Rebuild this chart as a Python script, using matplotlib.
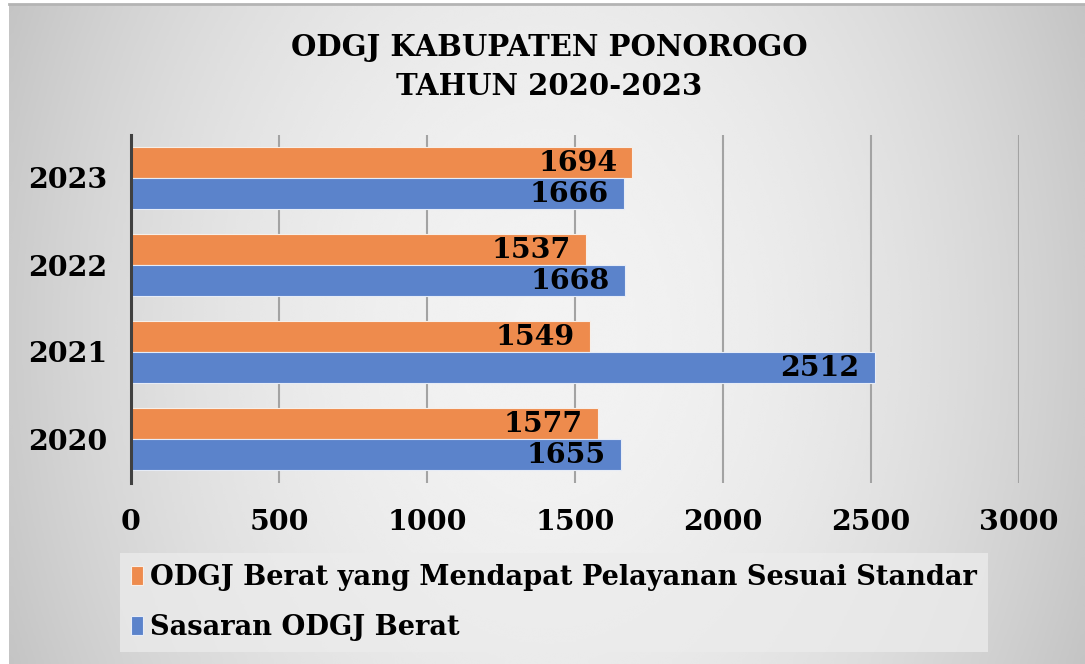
import matplotlib
matplotlib.use("Agg")
import matplotlib.pyplot as plt
import numpy as np

# data
years = ["2020", "2021", "2022", "2023"]
pelayanan = [1577, 1549, 1537, 1694]   # ODGJ Berat yang Mendapat Pelayanan Sesuai Standar
sasaran = [1655, 2512, 1668, 1666]     # Sasaran ODGJ Berat
label_pelayanan = "ODGJ Berat yang Mendapat Pelayanan Sesuai Standar"
label_sasaran = "Sasaran ODGJ Berat"
title = "ODGJ KABUPATEN PONOROGO\nTAHUN 2020-2023"

ORANGE = "#ee8b4d"
BLUE = "#5b83cb"
W, H = 1085, 664

plt.rcParams["font.family"] = ["DejaVu Serif"]
plt.rcParams["font.weight"] = "bold"

fig = plt.figure(figsize=(W / 100, H / 100), dpi=100)
fig.patch.set_facecolor("white")

# grey backdrop, light in the middle and darker to the sides
bg = fig.add_axes([9 / W, 0, 1 - 9 / W, (H - 4) / H], zorder=-10)
xx, yy = np.meshgrid(np.linspace(-1, 1, 400), np.linspace(-1, 1, 250))
r2 = xx ** 2 + (yy / 2.2) ** 2
shade = np.clip(0.95 - 0.15 * r2, 0, 1)
bg.imshow(shade, cmap="gray", vmin=0, vmax=1, aspect="auto",
          extent=[0, 1, 0, 1], interpolation="bicubic")
bg.plot([0, 1], [1, 1], color="#b4b4b4", lw=2, transform=bg.transAxes, clip_on=False)
bg.set_axis_off()

ax = fig.add_axes([131 / W, (H - 482.5) / H, (1019 - 131) / W, (482.5 - 134.5) / H])
ax.set_facecolor("none")

y = np.arange(len(years))
h = 0.356
b1 = ax.barh(y + h / 2, pelayanan, height=h, color=ORANGE, edgecolor="#f7efe8",
             linewidth=0.8, label=label_pelayanan, zorder=3)
b2 = ax.barh(y - h / 2, sasaran, height=h, color=BLUE, edgecolor="#e6ecf7",
             linewidth=0.8, label=label_sasaran, zorder=3)

for bars, vals in ((b1, pelayanan), (b2, sasaran)):
    for bar, v in zip(bars, vals):
        ax.annotate(str(v), (v, bar.get_y() + bar.get_height() / 2),
                    xytext=(-15, -1), textcoords="offset pixels",
                    ha="right", va="center", fontsize=20.5, fontweight="bold",
                    color="black", zorder=4)

ax.set_xlim(0, 3000)
ax.set_ylim(-0.5, len(years) - 0.5)
ax.set_xticks(np.arange(0, 3001, 500))
ax.set_yticks(y)
ax.set_yticklabels(years)
ax.tick_params(axis="both", length=0, labelsize=20.5)
ax.tick_params(axis="x", pad=19)
ax.tick_params(axis="y", pad=17)
ax.grid(axis="x", color="#a3a3a3", linewidth=1.5, zorder=0)
for s in ("top", "right", "bottom"):
    ax.spines[s].set_visible(False)
ax.spines["left"].set_color("#404040")
ax.spines["left"].set_linewidth(2.2)
ax.spines["left"].set_zorder(5)

fig.text(549 / W, 1 - 67 / H, title, ha="center", va="center",
         fontsize=21, fontweight="bold", linespacing=1.45)

handles = [b1, b2]
leg = fig.legend(handles, [label_pelayanan, label_sasaran],
                 loc="upper left", bbox_to_anchor=(120 / W, 1 - 553 / H),
                 fontsize=19.6, frameon=True, fancybox=False,
                 handlelength=0.45, handleheight=0.7, handletextpad=0.25,
                 labelspacing=0.85, borderpad=0.4, borderaxespad=0)
leg.get_frame().set_facecolor("#ececec")
leg.get_frame().set_alpha(0.75)
leg.get_frame().set_edgecolor("none")

fig.savefig("out.png", dpi=100)
